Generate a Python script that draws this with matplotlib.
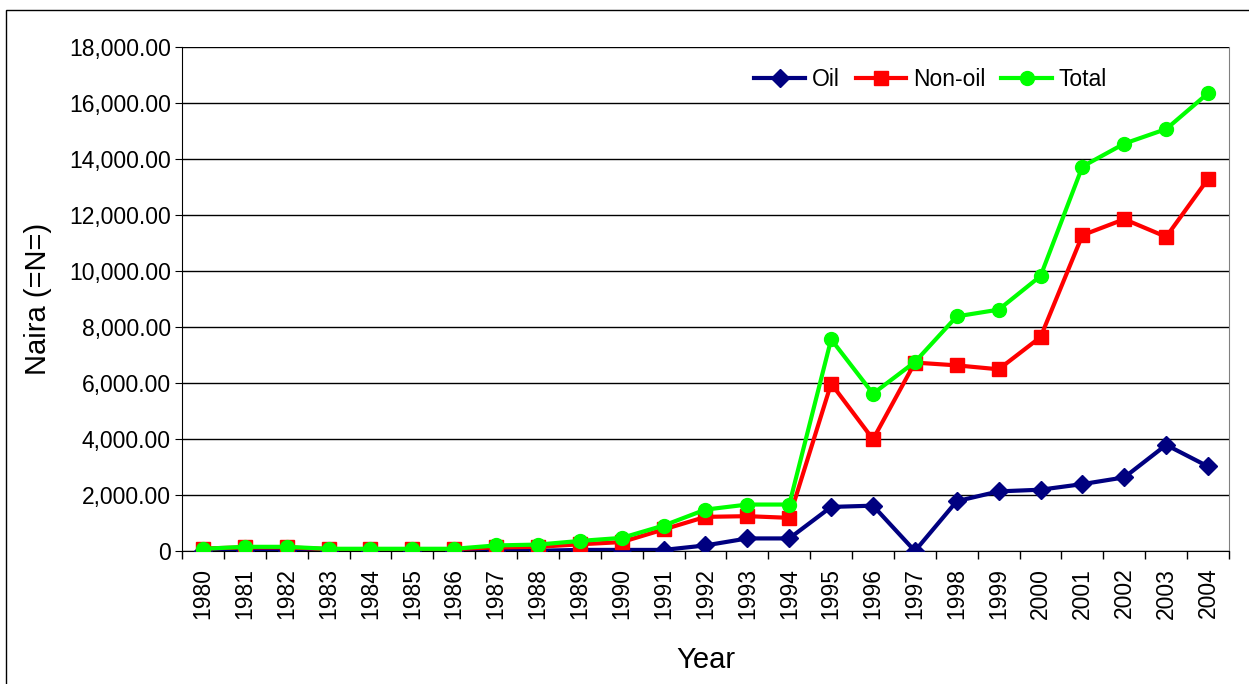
import numpy as np
import matplotlib.pyplot as plt
from matplotlib.patches import Rectangle
from matplotlib.ticker import FuncFormatter

plt.rcParams['font.family'] = ['Liberation Sans', 'DejaVu Sans']

years = [str(y) for y in range(1980, 2005)]
oil = [5, 5, 5, 5, 5, 5, 5, 10, 10, 40, 40, 40, 200, 450, 450,
       1575, 1620, 0, 1780, 2130, 2190, 2390, 2630, 3790, 3020]
non_oil = [90, 130, 130, 70, 70, 70, 70, 130, 150, 240, 320, 770, 1220, 1245, 1185,
           5980, 3990, 6730, 6630, 6490, 7640, 11280, 11850, 11220, 13290]
total = [80, 150, 150, 80, 80, 80, 80, 200, 230, 360, 470, 910, 1480, 1660, 1660,
         7560, 5620, 6750, 8380, 8620, 9820, 13730, 14550, 15070, 16350]

fig = plt.figure(figsize=(12.49, 6.84), dpi=100)
ax = fig.add_axes([0.1457, 0.1944, 0.8383, 0.7369])

x = np.arange(len(years))
ax.plot(x, oil, color="#000080", lw=3, marker="D", ms=9.5, label="Oil", zorder=3)
ax.plot(x, non_oil, color="#ff0000", lw=3, marker="s", ms=9.5, label="Non-oil", zorder=4)
ax.plot(x, total, color="#00ff00", lw=3, marker="o", ms=10, label="Total", zorder=5)

ax.set_xlim(-0.5, len(years) - 0.5)
ax.set_ylim(0, 18000)
ax.set_yticks(np.arange(0, 18001, 2000))
ax.yaxis.set_major_formatter(FuncFormatter(lambda v, p: "0" if v == 0 else f"{v:,.2f}"))
ax.grid(axis="y", color="black", lw=1)
ax.set_axisbelow(True)

ax.set_xticks(x)
ax.set_xticklabels(years, rotation=90, fontsize=16.5)
ax.set_xticks(np.arange(-0.5, len(years), 1), minor=True)
ax.tick_params(axis="x", which="major", length=0, pad=12)
ax.tick_params(axis="x", which="minor", length=6, width=1)
ax.tick_params(axis="y", labelsize=16.5, length=5, pad=3)

ax.spines["top"].set_visible(False)
ax.spines["right"].set_color("gray")
ax.spines["left"].set_color("black")
ax.spines["bottom"].set_color("black")

ax.set_ylabel("Naira (=N=)", fontsize=21, labelpad=12)
ax.set_xlabel("Year", fontsize=21, labelpad=20)

ax.legend(loc="center", bbox_to_anchor=(0.715, 0.935), ncol=3, frameon=False,
          fontsize=16.5, handlelength=2.2, columnspacing=0.7, handletextpad=0.3)

fig.patches.append(Rectangle((6 / 1249, -0.1), 1.2, 1.1 - 10 / 684,
                             transform=fig.transFigure, fill=False,
                             edgecolor="black", lw=1))

plt.savefig("out.png", dpi=100)
